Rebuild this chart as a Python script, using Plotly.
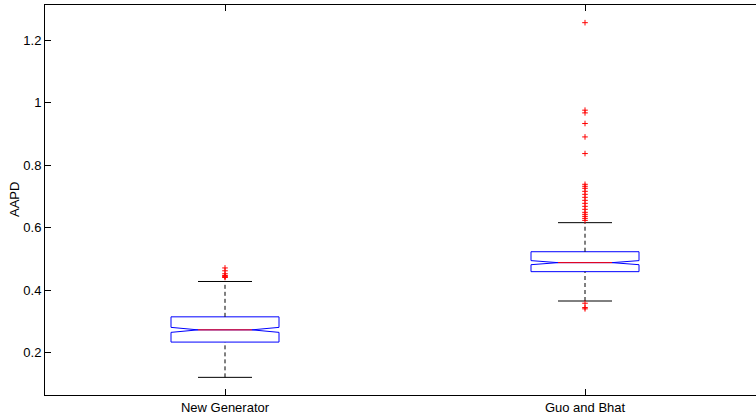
import plotly.graph_objects as go

categories = ["New Generator", "Guo and Bhat"]
q1 = [0.2346, 0.4597]
median = [0.2737, 0.4885]
q3 = [0.3153, 0.5234]
whisker_low = [0.1219, 0.3659]
whisker_high = [0.4283, 0.6163]
notch_span = [0.008, 0.0065]

outliers_new = [0.4716, 0.4625, 0.4530, 0.4475, 0.4450, 0.4430, 0.4411]
outliers_guo = [1.2555, 0.9759, 0.9672, 0.9333, 0.8904, 0.8372,
                0.7389, 0.7325, 0.7261, 0.7165, 0.7069, 0.6973, 0.6877,
                0.6781, 0.6685, 0.6589, 0.6493, 0.6429, 0.6364, 0.6300, 0.6236,
                0.3588, 0.3450, 0.3409]
outliers = [outliers_new, outliers_guo]

y_ticks = [0.2, 0.4, 0.6, 0.8, 1.0, 1.2]
y_ticktext = ["0.2", "0.4", "0.6", "0.8", "1", "1.2"]
y_label = "AAPD"

positions = list(range(1, len(categories) + 1))
box_width = 0.3
half = box_width / 2
notch_half = half * 0.5
cap_half = half * 0.5

FONT = "Liberation Sans, Arial, Helvetica, sans-serif"

fig = go.Figure()

# blue notched boxes
fig.add_trace(go.Box(
    x=positions, q1=q1, median=median, q3=q3,
    lowerfence=q1, upperfence=q3, notchspan=notch_span,
    notched=True, notchwidth=0.25, width=box_width, whiskerwidth=0,
    boxpoints=False, fillcolor="rgba(0,0,0,0)",
    line=dict(color="#0000ff", width=1), showlegend=False, hoverinfo="skip"))

# dashed whiskers
wx, wy = [], []
for p, lo, a, b, hi in zip(positions, whisker_low, q1, q3, whisker_high):
    wx += [p, p, None, p, p, None]
    wy += [lo, a, None, b, hi, None]
fig.add_trace(go.Scatter(x=wx, y=wy, mode="lines",
                         line=dict(color="black", width=1, dash="4px,3px"),
                         showlegend=False, hoverinfo="skip"))

# whisker caps
cx, cy = [], []
for p, lo, hi in zip(positions, whisker_low, whisker_high):
    cx += [p - cap_half, p + cap_half, None, p - cap_half, p + cap_half, None]
    cy += [lo, lo, None, hi, hi, None]
fig.add_trace(go.Scatter(x=cx, y=cy, mode="lines",
                         line=dict(color="black", width=1),
                         showlegend=False, hoverinfo="skip"))

# red medians
mx, my = [], []
for p, m in zip(positions, median):
    mx += [p - notch_half, p + notch_half, None]
    my += [m, m, None]
fig.add_trace(go.Scatter(x=mx, y=my, mode="lines",
                         line=dict(color="#ff0000", width=1),
                         showlegend=False, hoverinfo="skip"))

# outliers
ox, oy = [], []
for p, vals in zip(positions, outliers):
    ox += [p] * len(vals)
    oy += vals
fig.add_trace(go.Scatter(x=ox, y=oy, mode="markers",
                         marker=dict(symbol="cross-thin", size=4,
                                     line=dict(color="#ff0000", width=1)),
                         showlegend=False, hoverinfo="skip"))

fig.update_layout(
    width=756, height=418,
    margin=dict(l=45, r=0, t=5, b=23),
    paper_bgcolor="white", plot_bgcolor="white",
    font=dict(family=FONT, size=13, color="black"),
    xaxis=dict(range=[0.5, 0.5 + 711 / 360], tickvals=positions, ticktext=categories,
               ticks="inside", ticklen=6, tickcolor="black", tickwidth=1,
               showline=True, linecolor="black", linewidth=1, mirror="ticks",
               showgrid=False, zeroline=False),
    yaxis=dict(range=[0.0655, 1.312], tickvals=y_ticks, ticktext=y_ticktext,
               ticks="inside", ticklen=6, tickcolor="black", tickwidth=1,
               showline=True, linecolor="black", linewidth=1, mirror=False,
               showgrid=False, zeroline=False),
    annotations=[dict(text=y_label, xref="paper", yref="paper",
                      x=-31 / 711, y=0.5, xanchor="center", yanchor="middle",
                      textangle=-90, showarrow=False,
                      font=dict(family=FONT, size=13, color="black"))],
)

fig.write_html("out.html")
